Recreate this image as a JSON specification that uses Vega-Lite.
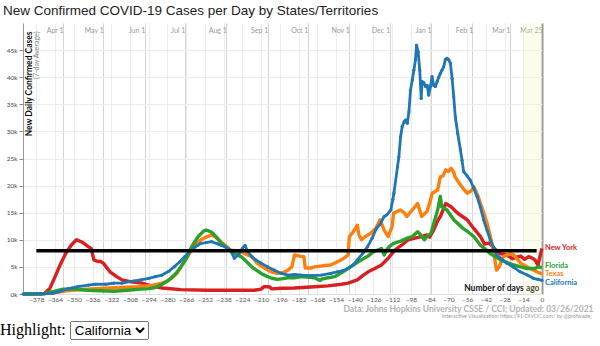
{
  "$schema": "https://vega.github.io/schema/vega-lite/v6.json",
  "width": 519,
  "height": 271,
  "autosize": {"type": "none"},
  "padding": {"left": 23, "top": 23, "right": 58, "bottom": 27},
  "background": "white",
  "params": [
    {"name": "highlight", "value": "California", "bind": {"input": "select", "options": ["California", "Florida", "New York", "Texas"], "name": "Highlight: "}}
  ],
  "title": {
    "text": "New Confirmed COVID-19 Cases per Day by States/Territories",
    "anchor": "start", "frame": "group", "dx": -20, "offset": 6,
    "font": "Liberation Sans", "fontSize": 13.5, "fontWeight": "normal", "color": "#222"
  },
  "config": {"view": {"stroke": null}, "font": "Lato"},
  "datasets": {
    "band": [{"start": -14, "end": 0}],
    "ref": [{"start": -378, "end": -4, "level": 8000}],
    "labels": [
      {"state": "New York", "d": 0, "v": 8400},
      {"state": "Florida", "d": 0, "v": 5250},
      {"state": "Texas", "d": 0, "v": 3650},
      {"state": "California", "d": 0, "v": 2050}
    ],
    "others": [
      {"state":"New York","d":-388,"v":0},{"state":"New York","d":-375,"v":0},{"state":"New York","d":-372,"v":100},{"state":"New York","d":-368,"v":1000},{"state":"New York","d":-364,"v":3200},{"state":"New York","d":-360,"v":5500},{"state":"New York","d":-356,"v":7500},{"state":"New York","d":-352,"v":9000},{"state":"New York","d":-348,"v":10000},{"state":"New York","d":-344,"v":9600},{"state":"New York","d":-339,"v":8700},{"state":"New York","d":-337,"v":8400},{"state":"New York","d":-335,"v":6300},{"state":"New York","d":-332,"v":6000},{"state":"New York","d":-330,"v":6000},{"state":"New York","d":-328,"v":5700},{"state":"New York","d":-323,"v":4100},{"state":"New York","d":-318,"v":3200},{"state":"New York","d":-314,"v":2600},{"state":"New York","d":-306,"v":2200},{"state":"New York","d":-299,"v":2000},{"state":"New York","d":-292,"v":1500},{"state":"New York","d":-284,"v":1100},{"state":"New York","d":-270,"v":800},{"state":"New York","d":-250,"v":700},{"state":"New York","d":-230,"v":700},{"state":"New York","d":-215,"v":700},{"state":"New York","d":-210,"v":900},{"state":"New York","d":-208,"v":1350},{"state":"New York","d":-204,"v":1350},{"state":"New York","d":-202,"v":950},{"state":"New York","d":-195,"v":1050},{"state":"New York","d":-185,"v":1100},{"state":"New York","d":-170,"v":1350},{"state":"New York","d":-160,"v":1500},{"state":"New York","d":-150,"v":1800},{"state":"New York","d":-145,"v":2000},{"state":"New York","d":-138,"v":2600},{"state":"New York","d":-134,"v":3400},{"state":"New York","d":-130,"v":4100},{"state":"New York","d":-125,"v":4700},{"state":"New York","d":-120,"v":5350},{"state":"New York","d":-115,"v":6600},{"state":"New York","d":-110,"v":8100},{"state":"New York","d":-105,"v":9000},{"state":"New York","d":-100,"v":10000},{"state":"New York","d":-95,"v":10300},{"state":"New York","d":-90,"v":10600},{"state":"New York","d":-86,"v":10900},{"state":"New York","d":-84,"v":10500},{"state":"New York","d":-81,"v":11800},{"state":"New York","d":-78,"v":13500},{"state":"New York","d":-76,"v":14300},{"state":"New York","d":-72,"v":16700},{"state":"New York","d":-68,"v":16100},{"state":"New York","d":-63,"v":14900},{"state":"New York","d":-56,"v":13700},{"state":"New York","d":-51,"v":12100},{"state":"New York","d":-46,"v":10600},{"state":"New York","d":-43,"v":9200},{"state":"New York","d":-40,"v":9400},{"state":"New York","d":-37,"v":8800},{"state":"New York","d":-34,"v":8000},{"state":"New York","d":-31,"v":7400},{"state":"New York","d":-28,"v":7300},{"state":"New York","d":-25,"v":7000},{"state":"New York","d":-22,"v":6500},{"state":"New York","d":-19,"v":6800},{"state":"New York","d":-16,"v":7000},{"state":"New York","d":-13,"v":6400},{"state":"New York","d":-10,"v":6900},{"state":"New York","d":-7,"v":6600},{"state":"New York","d":-5,"v":6200},{"state":"New York","d":-3,"v":5300},{"state":"New York","d":-1,"v":7500},{"state":"New York","d":0,"v":8400},
      {"state":"Texas","d":-388,"v":0},{"state":"Texas","d":-375,"v":0},{"state":"Texas","d":-365,"v":200},{"state":"Texas","d":-358,"v":500},{"state":"Texas","d":-352,"v":700},{"state":"Texas","d":-340,"v":900},{"state":"Texas","d":-327,"v":1050},{"state":"Texas","d":-315,"v":1200},{"state":"Texas","d":-302,"v":1350},{"state":"Texas","d":-292,"v":1600},{"state":"Texas","d":-284,"v":2000},{"state":"Texas","d":-280,"v":2400},{"state":"Texas","d":-277,"v":2900},{"state":"Texas","d":-273,"v":3800},{"state":"Texas","d":-270,"v":5000},{"state":"Texas","d":-266,"v":6500},{"state":"Texas","d":-262,"v":8100},{"state":"Texas","d":-258,"v":9300},{"state":"Texas","d":-255,"v":10000},{"state":"Texas","d":-251,"v":10500},{"state":"Texas","d":-247,"v":10900},{"state":"Texas","d":-244,"v":10500},{"state":"Texas","d":-240,"v":9650},{"state":"Texas","d":-236,"v":8800},{"state":"Texas","d":-233,"v":8100},{"state":"Texas","d":-229,"v":8000},{"state":"Texas","d":-225,"v":7800},{"state":"Texas","d":-221,"v":7300},{"state":"Texas","d":-217,"v":6900},{"state":"Texas","d":-213,"v":5700},{"state":"Texas","d":-209,"v":5000},{"state":"Texas","d":-205,"v":4400},{"state":"Texas","d":-201,"v":4000},{"state":"Texas","d":-198,"v":3800},{"state":"Texas","d":-193,"v":4000},{"state":"Texas","d":-190,"v":4400},{"state":"Texas","d":-187,"v":5000},{"state":"Texas","d":-185,"v":7200},{"state":"Texas","d":-181,"v":7000},{"state":"Texas","d":-178,"v":6900},{"state":"Texas","d":-177,"v":4800},{"state":"Texas","d":-173,"v":4800},{"state":"Texas","d":-170,"v":5000},{"state":"Texas","d":-164,"v":5200},{"state":"Texas","d":-158,"v":5350},{"state":"Texas","d":-154,"v":5800},{"state":"Texas","d":-150,"v":6300},{"state":"Texas","d":-147,"v":6800},{"state":"Texas","d":-145,"v":7200},{"state":"Texas","d":-144,"v":10600},{"state":"Texas","d":-141,"v":11500},{"state":"Texas","d":-138,"v":12700},{"state":"Texas","d":-137,"v":11000},{"state":"Texas","d":-135,"v":10000},{"state":"Texas","d":-132,"v":10600},{"state":"Texas","d":-128,"v":11200},{"state":"Texas","d":-124,"v":12200},{"state":"Texas","d":-121,"v":13700},{"state":"Texas","d":-118,"v":11800},{"state":"Texas","d":-115,"v":10600},{"state":"Texas","d":-112,"v":12500},{"state":"Texas","d":-111,"v":14900},{"state":"Texas","d":-106,"v":15500},{"state":"Texas","d":-103,"v":15000},{"state":"Texas","d":-101,"v":14300},{"state":"Texas","d":-97,"v":15500},{"state":"Texas","d":-93,"v":16700},{"state":"Texas","d":-90,"v":14300},{"state":"Texas","d":-86,"v":15200},{"state":"Texas","d":-84,"v":16800},{"state":"Texas","d":-82,"v":18600},{"state":"Texas","d":-78,"v":19200},{"state":"Texas","d":-76,"v":21600},{"state":"Texas","d":-74,"v":21800},{"state":"Texas","d":-72,"v":22900},{"state":"Texas","d":-70,"v":22600},{"state":"Texas","d":-68,"v":23200},{"state":"Texas","d":-66,"v":22500},{"state":"Texas","d":-65,"v":21600},{"state":"Texas","d":-62,"v":20500},{"state":"Texas","d":-60,"v":19800},{"state":"Texas","d":-56,"v":18600},{"state":"Texas","d":-53,"v":19000},{"state":"Texas","d":-51,"v":19800},{"state":"Texas","d":-48,"v":18200},{"state":"Texas","d":-46,"v":16700},{"state":"Texas","d":-43,"v":14500},{"state":"Texas","d":-41,"v":13000},{"state":"Texas","d":-38,"v":10000},{"state":"Texas","d":-36,"v":7500},{"state":"Texas","d":-34,"v":4400},{"state":"Texas","d":-32,"v":5000},{"state":"Texas","d":-29,"v":6900},{"state":"Texas","d":-26,"v":7200},{"state":"Texas","d":-24,"v":7400},{"state":"Texas","d":-21,"v":7200},{"state":"Texas","d":-18,"v":6300},{"state":"Texas","d":-16,"v":5700},{"state":"Texas","d":-11,"v":5000},{"state":"Texas","d":-8,"v":4600},{"state":"Texas","d":-4,"v":4100},{"state":"Texas","d":0,"v":3700},
      {"state":"Florida","d":-388,"v":0},{"state":"Florida","d":-380,"v":0},{"state":"Florida","d":-372,"v":100},{"state":"Florida","d":-365,"v":500},{"state":"Florida","d":-358,"v":900},{"state":"Florida","d":-350,"v":900},{"state":"Florida","d":-340,"v":700},{"state":"Florida","d":-330,"v":600},{"state":"Florida","d":-320,"v":500},{"state":"Florida","d":-310,"v":700},{"state":"Florida","d":-300,"v":900},{"state":"Florida","d":-294,"v":1000},{"state":"Florida","d":-289,"v":1200},{"state":"Florida","d":-284,"v":1800},{"state":"Florida","d":-280,"v":2400},{"state":"Florida","d":-277,"v":3000},{"state":"Florida","d":-273,"v":4000},{"state":"Florida","d":-270,"v":5000},{"state":"Florida","d":-266,"v":6500},{"state":"Florida","d":-262,"v":8700},{"state":"Florida","d":-257,"v":10600},{"state":"Florida","d":-253,"v":11600},{"state":"Florida","d":-251,"v":11800},{"state":"Florida","d":-248,"v":11500},{"state":"Florida","d":-246,"v":11200},{"state":"Florida","d":-243,"v":10400},{"state":"Florida","d":-240,"v":9400},{"state":"Florida","d":-235,"v":8400},{"state":"Florida","d":-230,"v":7500},{"state":"Florida","d":-225,"v":6900},{"state":"Florida","d":-221,"v":6000},{"state":"Florida","d":-217,"v":5000},{"state":"Florida","d":-213,"v":4300},{"state":"Florida","d":-210,"v":3800},{"state":"Florida","d":-206,"v":3300},{"state":"Florida","d":-202,"v":2900},{"state":"Florida","d":-198,"v":2700},{"state":"Florida","d":-195,"v":2800},{"state":"Florida","d":-190,"v":3000},{"state":"Florida","d":-185,"v":3000},{"state":"Florida","d":-180,"v":3200},{"state":"Florida","d":-170,"v":3000},{"state":"Florida","d":-166,"v":2500},{"state":"Florida","d":-164,"v":2800},{"state":"Florida","d":-160,"v":3000},{"state":"Florida","d":-155,"v":3200},{"state":"Florida","d":-150,"v":3900},{"state":"Florida","d":-145,"v":4700},{"state":"Florida","d":-140,"v":5500},{"state":"Florida","d":-135,"v":6300},{"state":"Florida","d":-130,"v":7000},{"state":"Florida","d":-126,"v":7800},{"state":"Florida","d":-122,"v":8200},{"state":"Florida","d":-120,"v":8400},{"state":"Florida","d":-118,"v":7200},{"state":"Florida","d":-116,"v":8200},{"state":"Florida","d":-114,"v":8800},{"state":"Florida","d":-111,"v":9350},{"state":"Florida","d":-105,"v":9800},{"state":"Florida","d":-101,"v":10300},{"state":"Florida","d":-97,"v":10600},{"state":"Florida","d":-93,"v":11500},{"state":"Florida","d":-91,"v":11000},{"state":"Florida","d":-88,"v":10000},{"state":"Florida","d":-86,"v":10600},{"state":"Florida","d":-83,"v":11200},{"state":"Florida","d":-80,"v":13800},{"state":"Florida","d":-78,"v":15500},{"state":"Florida","d":-76,"v":18000},{"state":"Florida","d":-75,"v":16100},{"state":"Florida","d":-71,"v":15500},{"state":"Florida","d":-66,"v":13700},{"state":"Florida","d":-62,"v":12800},{"state":"Florida","d":-59,"v":12100},{"state":"Florida","d":-55,"v":11400},{"state":"Florida","d":-51,"v":10600},{"state":"Florida","d":-46,"v":9000},{"state":"Florida","d":-42,"v":8200},{"state":"Florida","d":-39,"v":7500},{"state":"Florida","d":-35,"v":6900},{"state":"Florida","d":-31,"v":6300},{"state":"Florida","d":-26,"v":5800},{"state":"Florida","d":-21,"v":5350},{"state":"Florida","d":-16,"v":5000},{"state":"Florida","d":-11,"v":4700},{"state":"Florida","d":-6,"v":4700},{"state":"Florida","d":-2,"v":5000},{"state":"Florida","d":0,"v":4800}
    ],
    "california": [
      {"state":"California","d":-388,"v":0},{"state":"California","d":-375,"v":50},{"state":"California","d":-366,"v":100},{"state":"California","d":-360,"v":500},{"state":"California","d":-354,"v":1000},{"state":"California","d":-347,"v":1350},{"state":"California","d":-339,"v":1650},{"state":"California","d":-334,"v":1800},{"state":"California","d":-326,"v":1800},{"state":"California","d":-320,"v":2000},{"state":"California","d":-314,"v":2000},{"state":"California","d":-305,"v":2400},{"state":"California","d":-300,"v":2600},{"state":"California","d":-294,"v":2900},{"state":"California","d":-289,"v":3200},{"state":"California","d":-284,"v":3500},{"state":"California","d":-279,"v":4200},{"state":"California","d":-275,"v":5000},{"state":"California","d":-271,"v":5900},{"state":"California","d":-267,"v":6900},{"state":"California","d":-264,"v":7700},{"state":"California","d":-262,"v":8100},{"state":"California","d":-258,"v":8900},{"state":"California","d":-255,"v":9350},{"state":"California","d":-251,"v":9500},{"state":"California","d":-247,"v":9650},{"state":"California","d":-243,"v":9300},{"state":"California","d":-240,"v":9000},{"state":"California","d":-236,"v":8600},{"state":"California","d":-233,"v":8100},{"state":"California","d":-230,"v":6600},{"state":"California","d":-227,"v":7200},{"state":"California","d":-224,"v":8400},{"state":"California","d":-222,"v":9000},{"state":"California","d":-220,"v":7800},{"state":"California","d":-217,"v":6900},{"state":"California","d":-214,"v":6300},{"state":"California","d":-210,"v":5700},{"state":"California","d":-205,"v":5000},{"state":"California","d":-200,"v":4400},{"state":"California","d":-195,"v":3800},{"state":"California","d":-190,"v":3500},{"state":"California","d":-185,"v":3600},{"state":"California","d":-180,"v":3500},{"state":"California","d":-172,"v":3400},{"state":"California","d":-165,"v":3500},{"state":"California","d":-158,"v":3800},{"state":"California","d":-153,"v":4100},{"state":"California","d":-149,"v":4300},{"state":"California","d":-145,"v":4700},{"state":"California","d":-141,"v":5400},{"state":"California","d":-138,"v":6300},{"state":"California","d":-134,"v":7500},{"state":"California","d":-130.5,"v":8700},{"state":"California","d":-127,"v":10300},{"state":"California","d":-124,"v":12000},{"state":"California","d":-121,"v":12900},{"state":"California","d":-118,"v":14300},{"state":"California","d":-116,"v":14600},{"state":"California","d":-114,"v":15200},{"state":"California","d":-113,"v":15500},{"state":"California","d":-111.5,"v":17500},{"state":"California","d":-110.7,"v":18600},{"state":"California","d":-108,"v":23500},{"state":"California","d":-107,"v":25300},{"state":"California","d":-105.7,"v":29000},{"state":"California","d":-104.5,"v":30900},{"state":"California","d":-103,"v":31800},{"state":"California","d":-102,"v":32100},{"state":"California","d":-100.7,"v":31500},{"state":"California","d":-99.5,"v":33600},{"state":"California","d":-98.3,"v":37600},{"state":"California","d":-97,"v":39500},{"state":"California","d":-95.8,"v":41300},{"state":"California","d":-94.6,"v":43200},{"state":"California","d":-93.8,"v":45900},{"state":"California","d":-92.6,"v":44700},{"state":"California","d":-91.4,"v":41300},{"state":"California","d":-90.3,"v":36100},{"state":"California","d":-89.6,"v":39200},{"state":"California","d":-88.4,"v":39000},{"state":"California","d":-87.1,"v":38300},{"state":"California","d":-85.9,"v":38500},{"state":"California","d":-84.7,"v":36700},{"state":"California","d":-83.4,"v":38300},{"state":"California","d":-82.2,"v":40100},{"state":"California","d":-81,"v":38500},{"state":"California","d":-79.7,"v":38300},{"state":"California","d":-78.4,"v":39200},{"state":"California","d":-77.2,"v":40000},{"state":"California","d":-76,"v":40700},{"state":"California","d":-74.8,"v":41300},{"state":"California","d":-73.5,"v":41900},{"state":"California","d":-72.2,"v":43300},{"state":"California","d":-71,"v":43500},{"state":"California","d":-69.7,"v":43200},{"state":"California","d":-68.5,"v":42600},{"state":"California","d":-67.2,"v":39800},{"state":"California","d":-66,"v":36400},{"state":"California","d":-64.8,"v":32700},{"state":"California","d":-63,"v":29600},{"state":"California","d":-61,"v":26600},{"state":"California","d":-59.8,"v":24700},{"state":"California","d":-58.6,"v":22600},{"state":"California","d":-56,"v":21800},{"state":"California","d":-53.6,"v":21000},{"state":"California","d":-51,"v":19500},{"state":"California","d":-48.6,"v":18000},{"state":"California","d":-46,"v":16000},{"state":"California","d":-43.7,"v":13700},{"state":"California","d":-41,"v":11700},{"state":"California","d":-38.7,"v":10000},{"state":"California","d":-36,"v":8500},{"state":"California","d":-33.7,"v":7200},{"state":"California","d":-30,"v":6400},{"state":"California","d":-26.3,"v":5700},{"state":"California","d":-21,"v":4900},{"state":"California","d":-16.4,"v":4100},{"state":"California","d":-11,"v":3500},{"state":"California","d":-6.5,"v":2900},{"state":"California","d":-3,"v":2700},{"state":"California","d":0,"v":2500}
    ]
  },
  "layer": [
    {
      "data": {"name": "band"},
      "mark": {"type": "rect", "color": "#f8f8b8", "opacity": 0.25},
      "encoding": {
        "x": {"field": "start", "type": "quantitative", "scale": {"domain": [-388, 0], "nice": false, "zero": false}, "axis": null},
        "x2": {"field": "end"}
      }
    },
    {
      "data": {"name": "others"},
      "mark": {"type": "line", "strokeWidth": 3.4, "strokeJoin": "round"},
      "encoding": {
        "x": {
          "field": "d", "type": "quantitative",
          "scale": {"domain": [-388, 0], "nice": false, "zero": false},
          "axis": {
            "orient": "bottom",
            "values": [-378,-364,-350,-336,-322,-308,-294,-280,-266,-252,-238,-224,-210,-196,-182,-168,-154,-140,-126,-112,-98,-84,-70,-56,-42,-28,-14,0],
            "ticks": false, "domain": true, "domainColor": "#e0e0e0",
            "grid": true, "gridColor": "#ececec",
            "labelFontSize": 6.5, "labelColor": "#555", "labelPadding": 2, "labelFlush": false,
            "title": "Number of days ago", "titleFontSize": 8.5, "titleFontWeight": "bold", "titleColor": "#111",
            "titleX": 516, "titleY": -4, "titleAlign": "right", "titleBaseline": "alphabetic"
          }
        },
        "y": {
          "field": "v", "type": "quantitative",
          "scale": {"domain": [0, 50000], "nice": false},
          "axis": {
            "orient": "left",
            "values": [0,5000,10000,15000,20000,25000,30000,35000,40000,45000],
            "format": "~s",
            "labelFontSize": 6.5, "labelColor": "#444", "labelPadding": 2,
            "tickSize": 4, "tickColor": "#888", "domainColor": "#999",
            "grid": true, "gridColor": "#ececec",
            "title": "New Daily Confirmed Cases", "titleFontSize": 8.5, "titleFontWeight": "bold", "titleColor": "#111",
            "titleAngle": -90, "titleX": 5.5, "titleY": 8, "titleAlign": "right", "titleBaseline": "middle"
          }
        },
        "color": {
          "field": "state", "type": "nominal",
          "scale": {"domain": ["New York", "Florida", "Texas", "California"], "range": ["#d91f1f", "#2ca02c", "#ff7f0e", "#1f77b4"]},
          "legend": null
        }
      }
    },
    {
      "data": {"name": "california"},
      "mark": {"type": "line", "strokeWidth": 2.8, "strokeJoin": "round", "point": {"filled": true, "size": 10}},
      "encoding": {
        "x": {
          "field": "d", "type": "quantitative",
          "scale": {"domain": [-388, 0], "nice": false, "zero": false},
          "axis": {
            "orient": "bottom", "labels": false, "ticks": false, "domain": false, "grid": false,
            "title": "Data: Johns Hopkins University CSSE / CCI; Updated: 03/26/2021",
            "titleFontSize": 8.5, "titleFontWeight": "bold", "titleColor": "#b3b3b3",
            "titleX": 570, "titleY": 17, "titleAlign": "right", "titleBaseline": "alphabetic"
          }
        },
        "y": {"field": "v", "type": "quantitative", "scale": {"domain": [0, 50000], "nice": false}, "axis": null},
        "color": {"field": "state", "type": "nominal", "legend": null}
      }
    },
    {
      "data": {"name": "ref"},
      "mark": {"type": "rule", "color": "#000", "strokeWidth": 3.5},
      "encoding": {
        "x": {
          "field": "start", "type": "quantitative",
          "scale": {"domain": [-388, 0], "nice": false, "zero": false},
          "axis": {
            "orient": "top",
            "values": [-358,-328,-297,-267,-236,-205,-175,-144,-114,-83,-52,-24,0],
            "labelExpr": "utcFormat(utc(2021, 2, 25) + datum.value * 86400000, '%b %-d')",
            "ticks": false, "domain": false,
            "grid": true,
            "gridColor": {"condition": {"test": "datum.value === 0", "value": "#9a9a9a"}, "value": "#d4d4d4"},
            "gridWidth": {"condition": {"test": "datum.value === 0", "value": 2}, "value": 1},
            "labelAlign": "right", "labelBaseline": "bottom", "labelPadding": -10, "labelDx": -3,
            "labelFontSize": 7, "labelColor": "#9a9a9a", "labelFlush": false,
            "title": null
          }
        },
        "x2": {"field": "end"},
        "y": {
          "field": "level", "type": "quantitative",
          "scale": {"domain": [0, 50000], "nice": false},
          "axis": {
            "orient": "left", "labels": false, "ticks": false, "domain": false, "grid": false,
            "title": "(7-day Average)", "titleFontSize": 7, "titleFontWeight": "normal", "titleColor": "#888",
            "titleAngle": -90, "titleX": 13.5, "titleY": 8, "titleAlign": "right", "titleBaseline": "middle"
          }
        }
      }
    },
    {
      "data": {"name": "labels"},
      "mark": {"type": "text", "align": "left", "baseline": "middle", "dx": 3, "fontSize": 7.5, "fontWeight": "bold"},
      "encoding": {
        "x": {
          "field": "d", "type": "quantitative",
          "scale": {"domain": [-388, 0], "nice": false, "zero": false},
          "axis": {
            "orient": "bottom", "labels": false, "ticks": false, "domain": false, "grid": false,
            "title": "Interactive Visualization: https://91-DIVOC.com/ by @profwade_",
            "titleFontSize": 5.3, "titleFontWeight": "normal", "titleColor": "#999",
            "titleX": 569, "titleY": 23.5, "titleAlign": "right", "titleBaseline": "alphabetic"
          }
        },
        "y": {"field": "v", "type": "quantitative", "scale": {"domain": [0, 50000], "nice": false}, "axis": null},
        "text": {"field": "state"},
        "color": {"field": "state", "type": "nominal", "legend": null}
      }
    }
  ],
  "resolve": {"axis": {"x": "independent", "y": "independent"}}
}
